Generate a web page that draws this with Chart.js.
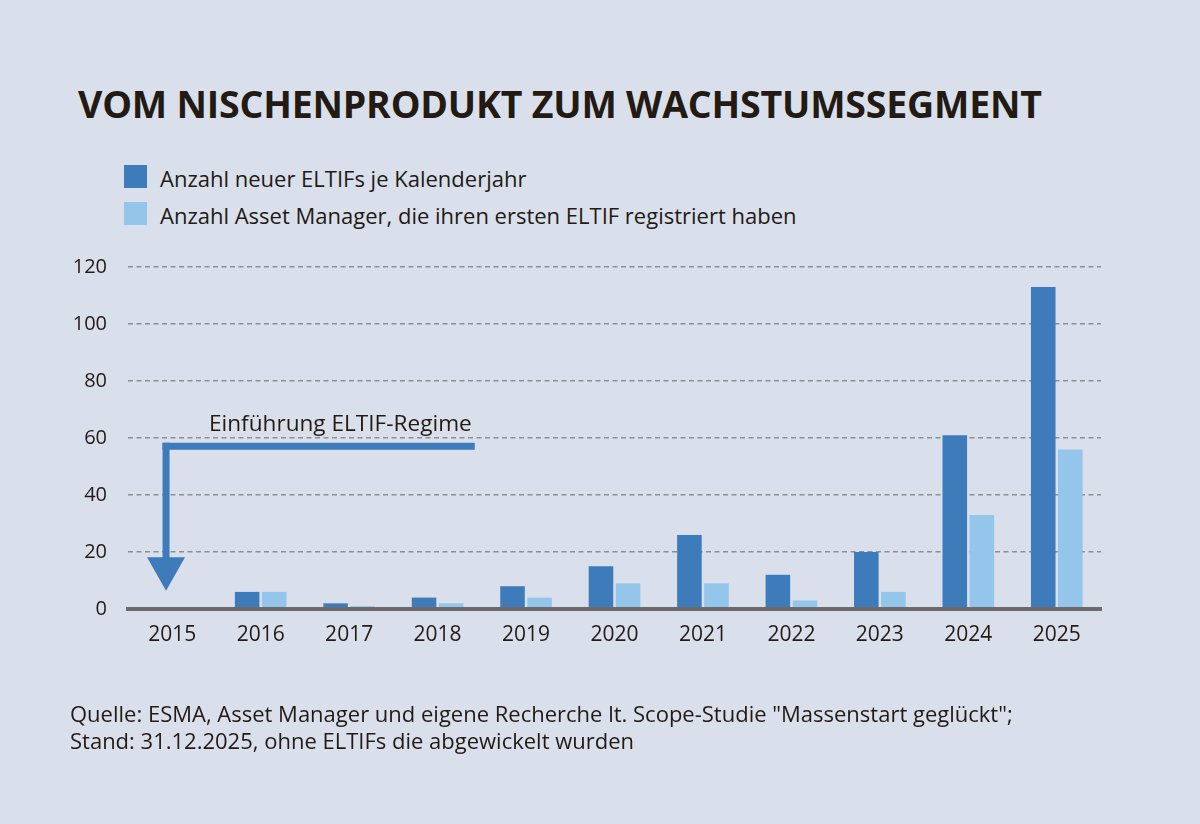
<!DOCTYPE html>
<html lang="de">
<head>
<meta charset="utf-8">
<title>Vom Nischenprodukt zum Wachstumssegment</title>
<script src="https://cdn.jsdelivr.net/npm/chart.js@4.4.1/dist/chart.umd.min.js"></script>
<style>
  html, body { margin: 0; padding: 0; }
  body { width: 1200px; height: 824px; background: #d9e0ec; overflow: hidden; }
  #wrap { position: relative; width: 1200px; height: 824px; font-family: "Open Sans", sans-serif; color: #231a14; }
  #chart { position: absolute; left: 0; top: 0; }
  .txt { position: absolute; white-space: nowrap; }
  #title { left: 78px; top: 84.5px; font-size: 37.5px; line-height: 37.5px; font-weight: 700; letter-spacing: -0.2px; }
  .legend-row { position: absolute; left: 124px; height: 23px; }
  .legend-box { position: absolute; left: 0; top: 0; width: 23px; height: 23px; }
  .legend-label { position: absolute; left: 36px; top: 2px; font-size: 22px; line-height: 22px; white-space: nowrap; }
  .foot { left: 70px; font-size: 22px; line-height: 22px; }
</style>
</head>
<body>
<div id="wrap">
  <div id="title" class="txt">VOM NISCHENPRODUKT ZUM WACHSTUMSSEGMENT</div>
  <div id="legend"></div>
  <canvas id="chart" width="1200" height="824"></canvas>
  <div class="txt foot" style="top:701.5px">Quelle: ESMA, Asset Manager und eigene Recherche lt. Scope-Studie "Massenstart geglückt";</div>
  <div class="txt foot" style="top:728.5px">Stand: 31.12.2025, ohne ELTIFs die abgewickelt wurden</div>
</div>
<script>
// ============================== data

const years = ['2015', '2016', '2017', '2018', '2019', '2020', '2021', '2022', '2023', '2024', '2025'];
const newEltifs = [0, 6, 2, 4, 8, 15, 26, 12, 20, 61, 113];
const firstTimeManagers = [0, 6, 1, 2, 4, 9, 9, 3, 6, 33, 56];
const seriesLabels = [
    'Anzahl neuer ELTIFs je Kalenderjahr',
    'Anzahl Asset Manager, die ihren ersten ELTIF registriert haben'
];
const yTicks = [0, 20, 40, 60, 80, 100, 120];

const darkBlue = '#3e7bbb';
const lightBlue = '#94c5ea';
const textColor = '#231a14';


// ============================== legend (html)

const legendEl = document.getElementById('legend');
[darkBlue, lightBlue].forEach((color, i) => {
    const row = document.createElement('div');
    row.className = 'legend-row';
    row.style.top = (165 + i * 37) + 'px';
    row.innerHTML = '<div class="legend-box" style="background:' + color + '"></div>' +
        '<div class="legend-label">' + seriesLabels[i] + '</div>';
    legendEl.appendChild(row);
});


// ============================== "Einführung ELTIF-Regime" arrow

// positions in scale units (x = category index, y = value)
const arrowNote = {
    text: 'Einführung ELTIF-Regime',
    xStart: -0.07,
    xEnd: 3.42,
    yLine: 57.1,
    yHead: 18.2,
    yTip: 6.4
};

const regimeArrow = {
    id: 'regimeArrow',
    afterDatasetsDraw(chart) {
        const { ctx, scales: { x, y } } = chart;
        const xs = x.getPixelForValue(arrowNote.xStart);
        const xe = x.getPixelForValue(arrowNote.xEnd);
        const yl = y.getPixelForValue(arrowNote.yLine);
        const yh = y.getPixelForValue(arrowNote.yHead);
        const yt = y.getPixelForValue(arrowNote.yTip);
        const half = 3.5;

        ctx.save();
        ctx.fillStyle = darkBlue;
        // horizontal + vertical shaft
        ctx.fillRect(xs - half, yl - half, xe - xs + half, half * 2);
        ctx.fillRect(xs - half, yl - half, half * 2, yh - yl + half + 1);
        // head
        ctx.beginPath();
        ctx.moveTo(xs - 19, yh);
        ctx.lineTo(xs + 19, yh);
        ctx.lineTo(xs, yt);
        ctx.closePath();
        ctx.fill();

        ctx.fillStyle = textColor;
        ctx.font = '22.6px "Open Sans"';
        ctx.textAlign = 'right';
        ctx.textBaseline = 'alphabetic';
        ctx.fillText(arrowNote.text, xe - 3, yl - 15);
        ctx.restore();
    }
};


// ============================== bar chart

const ctx = document.getElementById('chart').getContext('2d');
const eltifChart = new Chart(ctx, {
    type: 'bar',
    data: {
        labels: years,
        datasets: [
            {
                label: seriesLabels[0],
                data: newEltifs,
                backgroundColor: darkBlue,
                categoryPercentage: 0.612,
                barPercentage: 0.908
            },
            {
                label: seriesLabels[1],
                data: firstTimeManagers,
                backgroundColor: lightBlue,
                categoryPercentage: 0.612,
                barPercentage: 0.908
            }
        ]
    },
    options: {
        responsive: false,
        animation: false,
        devicePixelRatio: 1,
        layout: {
            padding: { left: 0, right: 99, top: 267, bottom: 0 }
        },
        plugins: {
            legend: { display: false },
            tooltip: { enabled: false }
        },
        scales: {
            x: {
                afterFit: (scale) => { scale.height = 215; },
                grid: { display: false, drawTicks: false },
                border: { display: true, color: '#6b6b6b', width: 4, z: 1 },
                ticks: {
                    padding: 13,
                    color: textColor,
                    font: { family: 'Open Sans', size: 21 }
                }
            },
            y: {
                min: 0,
                max: 120,
                afterFit: (scale) => { scale.width = 128; },
                afterBuildTicks: (scale) => { scale.ticks = yTicks.map(v => ({ value: v })); },
                grid: { color: '#8d8f93', lineWidth: 1.5, drawTicks: false },
                border: { display: false, dash: [5, 3.5] },
                ticks: {
                    padding: 21,
                    color: textColor,
                    font: { family: 'Open Sans', size: 20 }
                }
            }
        }
    },
    plugins: [regimeArrow]
});
</script>
</body>
</html>
